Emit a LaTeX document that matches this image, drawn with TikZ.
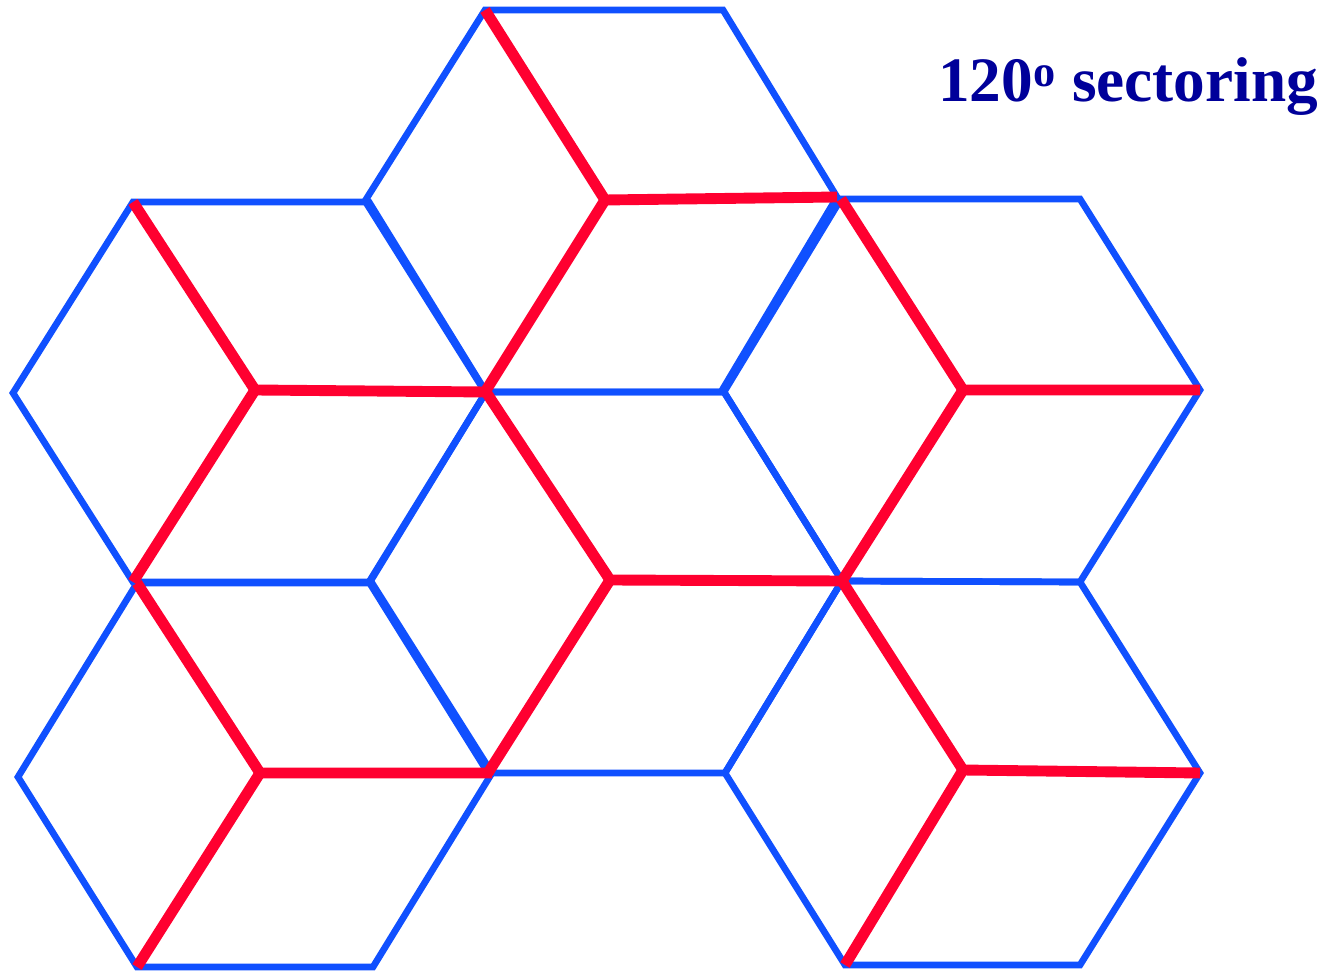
\documentclass[tikz,border=0pt]{standalone}
\usepackage{fontspec}
\setmainfont{Liberation Serif}
\definecolor{hexblue}{RGB}{16,80,255}
\definecolor{secred}{RGB}{255,0,48}
\definecolor{navytext}{RGB}{0,0,154}
\begin{document}
\begin{tikzpicture}[x=0.02cm,y=-0.02cm,
  hexedge/.style={draw=hexblue,line width=3.8pt,line join=miter},
  sector/.style={draw=secred,line width=6.2pt,line cap=butt},
  title/.style={text=navytext,font=\fontsize{36}{40}\selectfont\bfseries,inner sep=0pt,anchor=base west}]
\useasboundingbox (0,0) rectangle (1328,972);
% hexagon vertices
% top
\coordinate (T1) at (485,10);  \coordinate (T2) at (723,10);  \coordinate (T3) at (837,197);
\coordinate (T4) at (721,392); \coordinate (T5) at (485,392); \coordinate (T6) at (365,201);
\coordinate (Tc) at (605,200);
% upper left
\coordinate (A1) at (133,202); \coordinate (A2) at (369,202); \coordinate (A3) at (486,392);
\coordinate (A4) at (370,582); \coordinate (A5) at (133,582); \coordinate (A6) at (13,393);
\coordinate (Ac) at (255,390);
% upper right
\coordinate (B1) at (841,199); \coordinate (B2) at (1080,199); \coordinate (B3) at (1200,390);
\coordinate (B4) at (1080,582); \coordinate (B5) at (842,581); \coordinate (B6) at (724,392);
\coordinate (Bc) at (963,390);
% center
\coordinate (C1) at (486,392); \coordinate (C2) at (724,392); \coordinate (C3) at (842,581);
\coordinate (C4) at (725,773); \coordinate (C5) at (488,773); \coordinate (C6) at (369,582);
\coordinate (Cc) at (610,580);
% lower left
\coordinate (D1) at (137,583); \coordinate (D2) at (372,583); \coordinate (D3) at (492,773);
\coordinate (D4) at (373,967); \coordinate (D5) at (137,967); \coordinate (D6) at (18,777);
\coordinate (Dc) at (260,773);
% lower right
\coordinate (E1) at (842,581); \coordinate (E2) at (1080,582); \coordinate (E3) at (1200,773);
\coordinate (E4) at (1080,965); \coordinate (E5) at (845,965); \coordinate (E6) at (725,773);
\coordinate (Ec) at (963,770);
% hexagons
\foreach \h in {T,A,B,C,D,E}{
  \draw[hexedge] (\h1) -- (\h2) -- (\h3) -- (\h4) -- (\h5) -- (\h6) -- cycle;
}
% 120 degree sectors
\foreach \h in {T,A,B,C,D,E}{
  \draw[sector] (\h1) -- (\h c) -- (\h3);
  \draw[sector] (\h c) -- (\h5);
}
\node[title] (label) at (938,102) {120\textsuperscript{o} sectoring};
\end{tikzpicture}
\end{document}
